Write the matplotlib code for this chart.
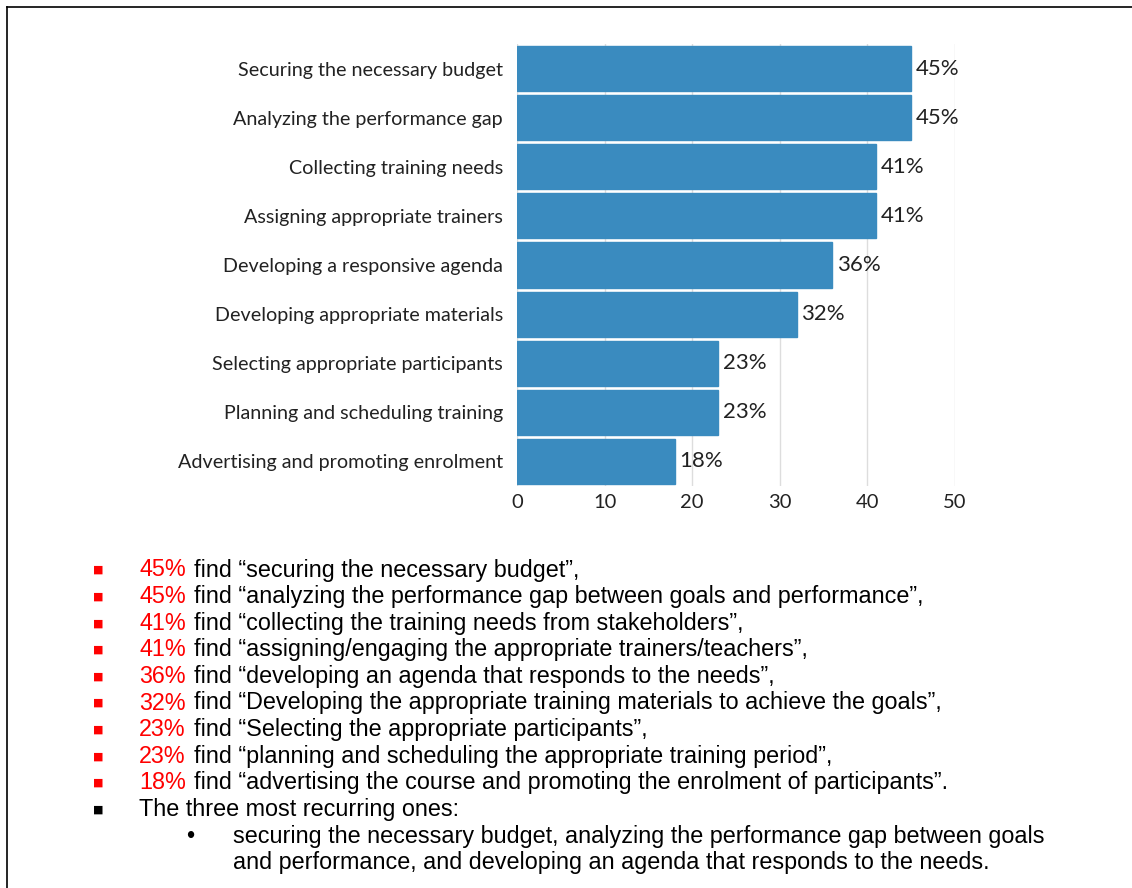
import matplotlib.pyplot as plt
from matplotlib.lines import Line2D

# datos del grafico
categorias = ['Securing the necessary budget', 'Analyzing the performance gap',
              'Collecting training needs', 'Assigning appropriate trainers',
              'Developing a responsive agenda', 'Developing appropriate materials',
              'Selecting appropriate participants', 'Planning and scheduling training',
              'Advertising and promoting enrolment']
porcentajes = [45, 45, 41, 41, 36, 32, 23, 23, 18]
ticks_x = [0, 10, 20, 30, 40, 50]

# textos de la lista
frases = ['find \u201csecuring the necessary budget\u201d,',
          'find \u201canalyzing the performance gap between goals and performance\u201d,',
          'find \u201ccollecting the training needs from stakeholders\u201d,',
          'find \u201cassigning/engaging the appropriate trainers/teachers\u201d,',
          'find \u201cdeveloping an agenda that responds to the needs\u201d,',
          'find \u201cDeveloping the appropriate training materials to achieve the goals\u201d,',
          'find \u201cSelecting the appropriate participants\u201d,',
          'find \u201cplanning and scheduling the appropriate training period\u201d,',
          'find \u201cadvertising the course and promoting the enrolment of participants\u201d.']
resumen = 'The three most recurring ones:'
detalle = ['securing the necessary budget, analyzing the performance gap between goals',
           'and performance, and developing an agenda that responds to the needs.']

W, H = 1132, 888
fig = plt.figure(figsize=(W / 100, H / 100), dpi=100)

# marco (solo arriba e izquierda)
fig.add_artist(Line2D([7 / W, 1], [1 - 7 / H, 1 - 7 / H], color='black', lw=1.2))
fig.add_artist(Line2D([7 / W, 7 / W], [0, 1 - 7 / H], color='black', lw=1.2))

# grafico de barras
ax = fig.add_axes([517 / W, 1 - 486 / H, 438 / W, (486 - 44) / H])
pos = list(range(len(categorias)))
ax.barh(pos, porcentajes, height=0.92, color='#3a8bbf', edgecolor='#3a8bbf', zorder=2)
ax.set_ylim(len(categorias) - 0.5, -0.5)
ax.set_xlim(0, 50)
ax.set_yticks(pos)
ax.set_yticklabels(categorias, fontfamily='Lato', fontsize=14.2, color='#222222')
ax.set_xticks(ticks_x)
ax.set_xticklabels([str(t) for t in ticks_x], fontfamily='Lato', fontsize=14.5, color='#222222')
ax.tick_params(axis='both', length=0)
ax.tick_params(axis='y', pad=10)
ax.tick_params(axis='x', pad=6)
ax.grid(axis='x', color='#dddddd', lw=1, zorder=0)
for s in ax.spines.values():
    s.set_visible(False)

for i, v in enumerate(porcentajes):
    ax.annotate(f'{v}%', (v, i), xytext=(3, 0), textcoords='offset points',
                va='center', ha='left', fontfamily='Lato', fontsize=16, color='#222222')

# lista de texto
fs = 16.8
y0 = 570
paso = 26.6
for i, (p, f) in enumerate(zip(porcentajes, frases)):
    y = 1 - (y0 + i * paso) / H
    fig.text(98 / W, y, '\u25a0', color='red', fontsize=8, ha='center', va='center', fontfamily='DejaVu Sans')
    fig.text(139 / W, y, f'{p}%', color='red', fontsize=fs, va='center', fontfamily='Liberation Sans')
    fig.text(194 / W, y, f, color='black', fontsize=fs, va='center', fontfamily='Liberation Sans')

y = 1 - (y0 + 9 * paso) / H
fig.text(98 / W, y, '\u25a0', color='black', fontsize=8, ha='center', va='center', fontfamily='DejaVu Sans')
fig.text(139 / W, y, resumen, color='black', fontsize=fs, va='center', fontfamily='Liberation Sans')
for j, linea in enumerate(detalle):
    y = 1 - (y0 + (10 + j) * paso) / H
    if j == 0:
        fig.text(190 / W, y, '\u2022', color='black', fontsize=fs, ha='center', va='center', fontfamily='Liberation Sans')
    fig.text(233 / W, y, linea, color='black', fontsize=fs, va='center', fontfamily='Liberation Sans')

fig.savefig('out.png', dpi=100)
